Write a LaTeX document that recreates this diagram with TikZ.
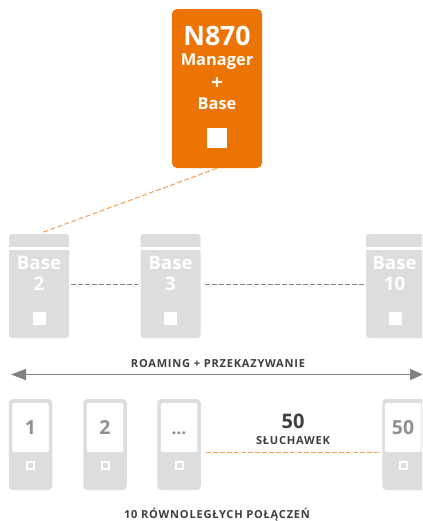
\documentclass[tikz,border=0pt]{standalone}
\usepackage{fontspec}
\setmainfont{Open Sans}
\newfontfamily\spaced[LetterSpace=7]{Open Sans}
\usepackage{tikz}
\usetikzlibrary{arrows.meta}
\newcommand{\px}{0.75pt}
\definecolor{gigaorange}{HTML}{EC7405}
\definecolor{dashorange}{HTML}{F5A25A}
\definecolor{boxgrey}{HTML}{DCDDDF}
\definecolor{linegrey}{HTML}{808285}
\definecolor{numgrey}{HTML}{8E9093}
\definecolor{textgrey}{HTML}{3F3F41}

\begin{document}
\begin{tikzpicture}[x=\px, y=-\px,
    basebox/.style={fill=boxgrey, rectangle, rounded corners=3*\px, minimum width=60*\px, minimum height=104*\px, inner sep=0pt},
    band/.style={fill=white, rectangle, minimum width=60*\px, minimum height=3*\px, inner sep=0pt},
    basetext/.style={text=white, font=\fontsize{14}{17}\selectfont\bfseries, align=center, inner sep=0pt},
    basekey/.style={fill=white, rectangle, minimum size=13*\px, inner sep=0pt},
    hand/.style={fill=boxgrey, rectangle, rounded corners=4*\px, minimum width=43.5*\px, minimum height=91*\px, inner sep=0pt},
    screen/.style={fill=white, rectangle, rounded corners=2*\px, minimum width=36.5*\px, minimum height=49*\px, inner sep=0pt},
    handkey/.style={draw=white, line width=2*\px, fill=boxgrey, rectangle, minimum size=7*\px, inner sep=0pt},
    num/.style={text=numgrey, font=\fontsize{14.5}{17}\selectfont\bfseries, anchor=base, inner sep=0pt},
    caption/.style={text=textgrey, font=\fontsize{8.3}{9}\selectfont\bfseries\spaced, anchor=base, inner sep=0pt}]
    \clip (0,0) rectangle (422,521);

    % Manager
    \node[fill=gigaorange, rectangle, rounded corners=5*\px, minimum width=90*\px, minimum height=159*\px, inner sep=0pt] (manager) at (217,88.5) {};
    \node[text=white, font=\fontsize{20}{22}\selectfont\bfseries, inner sep=0pt] (manager-1) at (217,36) {N870};
    \node[text=white, font=\fontsize{12.3}{14}\selectfont\bfseries, inner sep=0pt] (manager-2) at (217,62) {Manager};
    \node[text=white, font=\fontsize{15}{17}\selectfont\bfseries, inner sep=0pt] (manager-3) at (217,84) {+};
    \node[text=white, font=\fontsize{12.3}{14}\selectfont\bfseries, inner sep=0pt] (manager-4) at (217,104) {Base};
    \node[fill=white, rectangle, minimum size=20*\px, inner sep=0pt] (manager-5) at (217,138) {};

    % Bases
    \node[basebox] (base-2) at (39,286) {};
    \node[band] (band-2) at (39,248.5) {};
    \node[basetext] (text-2) at (39,263) {Base};
    \node[basetext] (nr-2) at (39,284) {2};
    \node[basekey] (key-2) at (39,318) {};

    \node[basebox] (base-3) at (170.5,286) {};
    \node[band] (band-3) at (170.5,248.5) {};
    \node[basetext] (text-3) at (170.5,263) {Base};
    \node[basetext] (nr-3) at (170.5,284) {3};
    \node[basekey] (key-3) at (170.5,318) {};

    \node[basebox] (base-10) at (396,286) {};
    \node[band] (band-10) at (396,248.5) {};
    \node[basetext] (text-10) at (394.5,263) {Base};
    \node[basetext] (nr-10) at (394.5,284) {10};
    \node[basekey] (key-10) at (395,318) {};

    \draw[dashorange, line width=1.1*\px, dash pattern=on 5*\px off 2.5*\px, shorten >=2*\px] (manager.south) -- (base-2.north);
    \draw[linegrey, line width=0.9*\px, dash pattern=on 5*\px off 2*\px, shorten <=2*\px, shorten >=2*\px] ([yshift=2*\px]base-2.east) -- ([yshift=2*\px]base-3.west);
    \draw[linegrey, line width=0.9*\px, dash pattern=on 5*\px off 2*\px, shorten <=4*\px, shorten >=2*\px] ([yshift=2*\px]base-3.east) -- ([yshift=2*\px]base-10.west);

    % Roaming
    \coordinate (roam-l) at (11,374.5);
    \coordinate (roam-r) at (423,374.5);
    \draw[linegrey, line width=1.5*\px, {Triangle[length=15*\px, width=11*\px]}-{Triangle[length=13*\px, width=11*\px]}] (roam-l) -- (roam-r);
    \node[caption] (roam) at (218,367) {ROAMING + PRZEKAZYWANIE};

    % Handsets
    \node[hand] (hand-1) at (30.5,444.5) {};
    \node[screen] (screen-1) at (30.5,427.5) {};
    \node[num] (num-1) at (30.5,434) {1};
    \node[handkey] (hkey-1) at (30.5,465) {};

    \node[hand] (hand-2) at (105,444.5) {};
    \node[screen] (screen-2) at (105,427.5) {};
    \node[num] (num-2) at (105,434) {2};
    \node[handkey] (hkey-2) at (105,465) {};

    \node[hand] (hand-3) at (179,444.5) {};
    \node[screen] (screen-3) at (179,427.5) {};
    \node[num, font=\fontsize{13}{15}\selectfont\bfseries] (num-3) at (179,434) {...};
    \node[handkey] (hkey-3) at (179,465) {};

    \node[hand] (hand-50) at (404,444.5) {};
    \node[screen] (screen-50) at (403,427.5) {};
    \node[num] (num-50) at (403,434) {50};
    \node[handkey] (hkey-50) at (403,465) {};

    \draw[dashorange, line width=1.1*\px, dash pattern=on 5*\px off 2*\px, shorten <=8*\px, shorten >=4.5*\px] (screen-3.south east) -- (screen-50.south west);

    \node[text=textgrey, font=\fontsize{15}{18}\selectfont\bfseries, anchor=base, inner sep=0pt] (count) at (293,428) {50};
    \node[caption] (count-2) at (293,444) {SŁUCHAWEK};
    \node[caption] (links) at (217,518.5) {10 RÓWNOLEGŁYCH POŁĄCZEŃ};
\end{tikzpicture}
\end{document}
